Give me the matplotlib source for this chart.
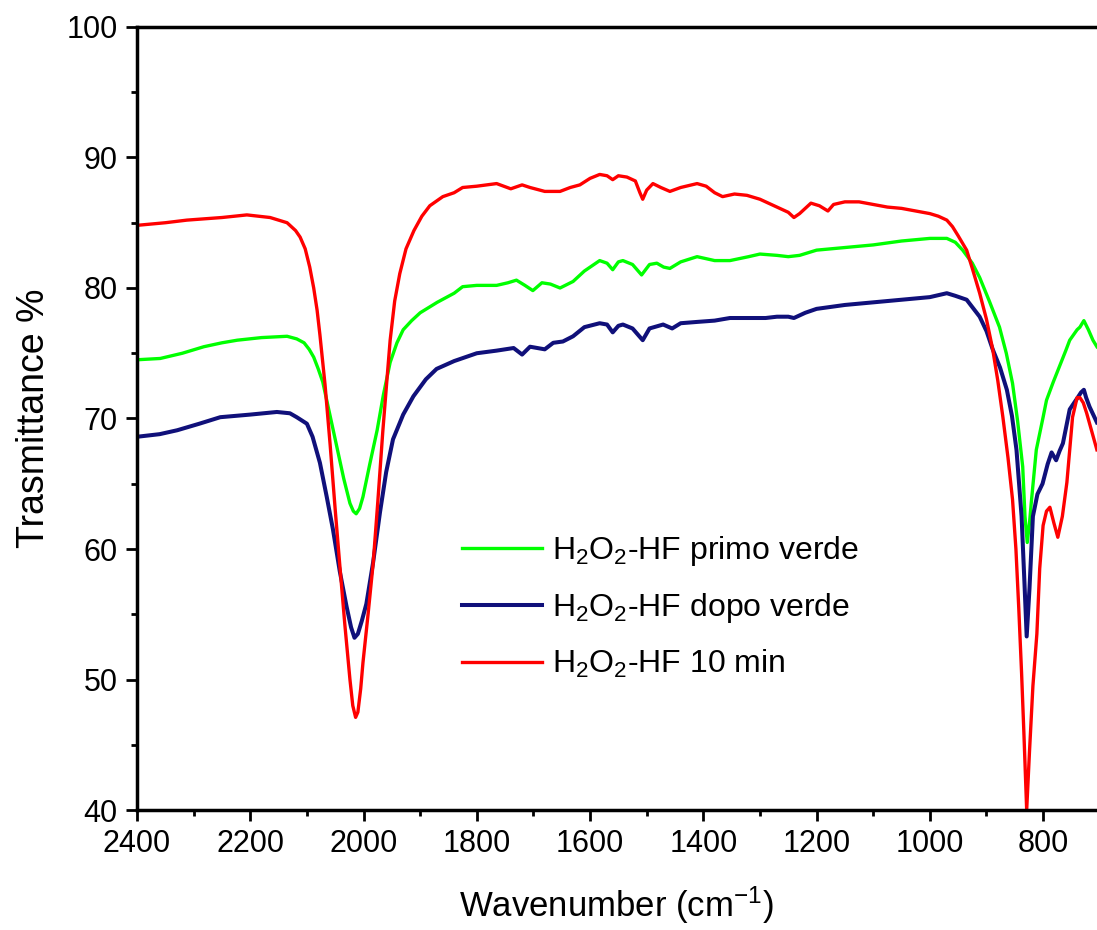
import matplotlib
matplotlib.use('Agg')
import matplotlib.pyplot as plt
from matplotlib.ticker import MultipleLocator

plt.rcParams['font.family'] = ['Liberation Sans', 'DejaVu Sans']
plt.rcParams['mathtext.fontset'] = 'custom'
plt.rcParams['mathtext.rm'] = 'Liberation Sans'
plt.rcParams['mathtext.it'] = 'Liberation Sans'

# H2O2-HF 10 min (red)
red_x = [2400, 2350, 2312, 2250, 2206, 2165, 2135, 2120, 2112, 2103, 2095, 2088, 2082, 2077,
         2068, 2059, 2050, 2042, 2033, 2024, 2019, 2014, 2010, 2005, 2001, 1992, 1983, 1975,
         1966, 1959, 1953, 1945, 1936, 1925, 1911, 1897, 1883, 1860, 1840, 1825, 1800, 1765,
         1740, 1720, 1706, 1680, 1653, 1635, 1618, 1600, 1583, 1570, 1560, 1550, 1535, 1520,
         1512, 1507, 1500, 1489, 1475, 1459, 1440, 1411, 1395, 1380, 1366, 1345, 1323, 1300,
         1270, 1250, 1240, 1230, 1210, 1195, 1180, 1170, 1150, 1125, 1100, 1075, 1050, 1025,
         1000, 985, 970, 960, 950, 935, 925, 912, 900, 889, 880, 871, 862, 854, 848, 843, 838,
         834, 829, 824, 818, 811, 806, 800, 794, 788, 781, 774, 766, 758, 748, 740, 735, 729,
         723, 714, 705]
red_y = [84.8, 85.0, 85.2, 85.4, 85.6, 85.4, 85.0, 84.4, 83.9, 83.0, 81.6, 80.0, 78.3, 76.4,
         72.6, 68.0, 63.0, 58.8, 54.2, 50.0, 48.0, 47.1, 47.5, 49.3, 51.3, 55.0, 58.9, 63.5,
         69.0, 72.8, 76.0, 79.0, 81.1, 83.0, 84.4, 85.5, 86.3, 87.0, 87.3, 87.7, 87.8, 88.0,
         87.6, 87.9, 87.7, 87.4, 87.4, 87.7, 87.9, 88.4, 88.7, 88.6, 88.3, 88.6, 88.5, 88.2,
         87.3, 86.8, 87.5, 88.0, 87.7, 87.4, 87.7, 88.0, 87.8, 87.3, 87.0, 87.2, 87.1, 86.8,
         86.2, 85.8, 85.4, 85.7, 86.5, 86.3, 85.9, 86.4, 86.6, 86.6, 86.4, 86.2, 86.1, 85.9,
         85.7, 85.5, 85.2, 84.7, 84.0, 82.9, 81.5, 79.6, 77.6, 75.3, 72.9, 70.1, 67.0, 63.8,
         60.0, 55.5, 50.5, 46.0, 40.0, 44.5, 49.5, 53.5, 58.5, 61.8, 62.9, 63.2, 62.0, 60.9,
         62.5, 65.1, 70.1, 71.6, 71.6, 71.2, 70.4, 69.0, 67.6]

# H2O2-HF primo verde (green)
green_x = [2400, 2359, 2320, 2282, 2250, 2223, 2180, 2135, 2118, 2105, 2096, 2088, 2080, 2072,
           2060, 2047, 2035, 2024, 2018, 2013, 2007, 2001, 1989, 1976, 1965, 1953, 1941, 1930,
           1915, 1900, 1870, 1840, 1825, 1800, 1765, 1745, 1730, 1715, 1701, 1685, 1670, 1653,
           1630, 1610, 1583, 1570, 1560, 1550, 1542, 1525, 1509, 1495, 1482, 1470, 1459, 1440,
           1411, 1380, 1353, 1320, 1300, 1270, 1250, 1230, 1200, 1150, 1100, 1050, 1000, 970,
           955, 942, 925, 912, 895, 877, 865, 854, 845, 836, 832, 828, 824, 821, 812, 800, 794,
           782, 771, 760, 753, 740, 735, 728, 720, 712, 705]
green_y = [74.5, 74.6, 75.0, 75.5, 75.8, 76.0, 76.2, 76.3, 76.1, 75.8, 75.3, 74.7, 73.8, 72.8,
           70.4, 67.8, 65.4, 63.5, 62.9, 62.7, 63.1, 64.0, 66.5, 69.1, 71.8, 74.3, 75.8, 76.8,
           77.5, 78.1, 78.9, 79.6, 80.1, 80.2, 80.2, 80.4, 80.6, 80.2, 79.8, 80.4, 80.3, 80.0,
           80.5, 81.3, 82.1, 81.9, 81.4, 82.0, 82.1, 81.8, 81.0, 81.8, 81.9, 81.6, 81.5, 82.0,
           82.4, 82.1, 82.1, 82.4, 82.6, 82.5, 82.4, 82.5, 82.9, 83.1, 83.3, 83.6, 83.8, 83.8,
           83.5, 82.9, 81.9, 80.8, 79.0, 77.0, 75.0, 72.7, 69.8, 66.3, 62.5, 60.5, 62.0, 63.5,
           67.6, 70.1, 71.4, 72.8, 74.0, 75.2, 76.0, 76.8, 77.0, 77.5, 76.8, 76.0, 75.5]

# H2O2-HF dopo verde (navy)
blue_x = [2400, 2360, 2329, 2290, 2253, 2200, 2153, 2130, 2118, 2100, 2090, 2077, 2065, 2054,
          2042, 2030, 2022, 2016, 2010, 2003, 1995, 1983, 1971, 1960, 1948, 1930, 1912, 1890,
          1871, 1840, 1800, 1765, 1735, 1720, 1706, 1680, 1665, 1648, 1630, 1610, 1583, 1570,
          1560, 1550, 1542, 1525, 1507, 1495, 1471, 1455, 1440, 1411, 1380, 1353, 1320, 1290,
          1270, 1250, 1240, 1220, 1200, 1150, 1100, 1050, 1000, 970, 955, 935, 912, 900, 889,
          876, 864, 855, 847, 838, 833, 829, 824, 818, 810, 801, 792, 785, 777, 771, 765, 753,
          739, 733, 728, 724, 718, 705]
blue_y = [68.6, 68.8, 69.1, 69.6, 70.1, 70.3, 70.5, 70.4, 70.1, 69.6, 68.6, 66.6, 64.0, 61.5,
          58.3, 55.6, 54.0, 53.2, 53.5, 54.5, 55.8, 59.0, 62.8, 65.9, 68.4, 70.3, 71.7, 73.0,
          73.8, 74.4, 75.0, 75.2, 75.4, 74.9, 75.5, 75.3, 75.8, 75.9, 76.3, 77.0, 77.3, 77.2,
          76.6, 77.1, 77.2, 76.9, 76.0, 76.9, 77.2, 76.9, 77.3, 77.4, 77.5, 77.7, 77.7, 77.7,
          77.8, 77.8, 77.7, 78.1, 78.4, 78.7, 78.9, 79.1, 79.3, 79.6, 79.4, 79.1, 77.8, 76.7,
          75.3, 73.9, 72.2, 70.2, 67.6, 62.5, 57.5, 53.3, 57.0, 62.5, 64.2, 65.0, 66.5, 67.4,
          66.8, 67.5, 68.1, 70.7, 71.6, 72.0, 72.2, 71.6, 70.9, 69.7]

fig = plt.figure(figsize=(10.97, 9.3), dpi=100)
ax = fig.add_axes([0.1249, 0.129, 0.9034, 0.842])

ax.plot(green_x, green_y, color='#00ff00', lw=2.4, label=r'H$_\mathregular{2}$O$_\mathregular{2}$-HF primo verde')
ax.plot(blue_x, blue_y, color='#10107a', lw=2.9, label=r'H$_\mathregular{2}$O$_\mathregular{2}$-HF dopo verde')
ax.plot(red_x, red_y, color='#ff0000', lw=2.4, label=r'H$_\mathregular{2}$O$_\mathregular{2}$-HF 10 min')

ax.set_xlim(2400, 650)
ax.set_ylim(40, 100)
ax.xaxis.set_major_locator(MultipleLocator(200))
ax.xaxis.set_minor_locator(MultipleLocator(100))
ax.yaxis.set_major_locator(MultipleLocator(10))
ax.yaxis.set_minor_locator(MultipleLocator(5))
ax.tick_params(which='major', direction='out', length=8, width=2, labelsize=22, pad=6)
ax.tick_params(which='minor', direction='out', length=4.5, width=2)
for s in ax.spines.values():
    s.set_linewidth(2.5)

ax.set_xlabel(r'Wavenumber (cm$^\mathregular{-1}$)', fontsize=25)
ax.set_ylabel('Trasmittance %', fontsize=27)
ax.xaxis.set_label_coords(0.484, -0.095)
ax.yaxis.set_label_coords(-0.086, 0.5)

ax.legend(loc='upper left', bbox_to_anchor=(0.328, 0.352), frameon=False, fontsize=23,
          handlelength=2.5, handletextpad=0.3, labelspacing=0.72, borderaxespad=0, borderpad=0)

fig.savefig('out.png', dpi=100)
